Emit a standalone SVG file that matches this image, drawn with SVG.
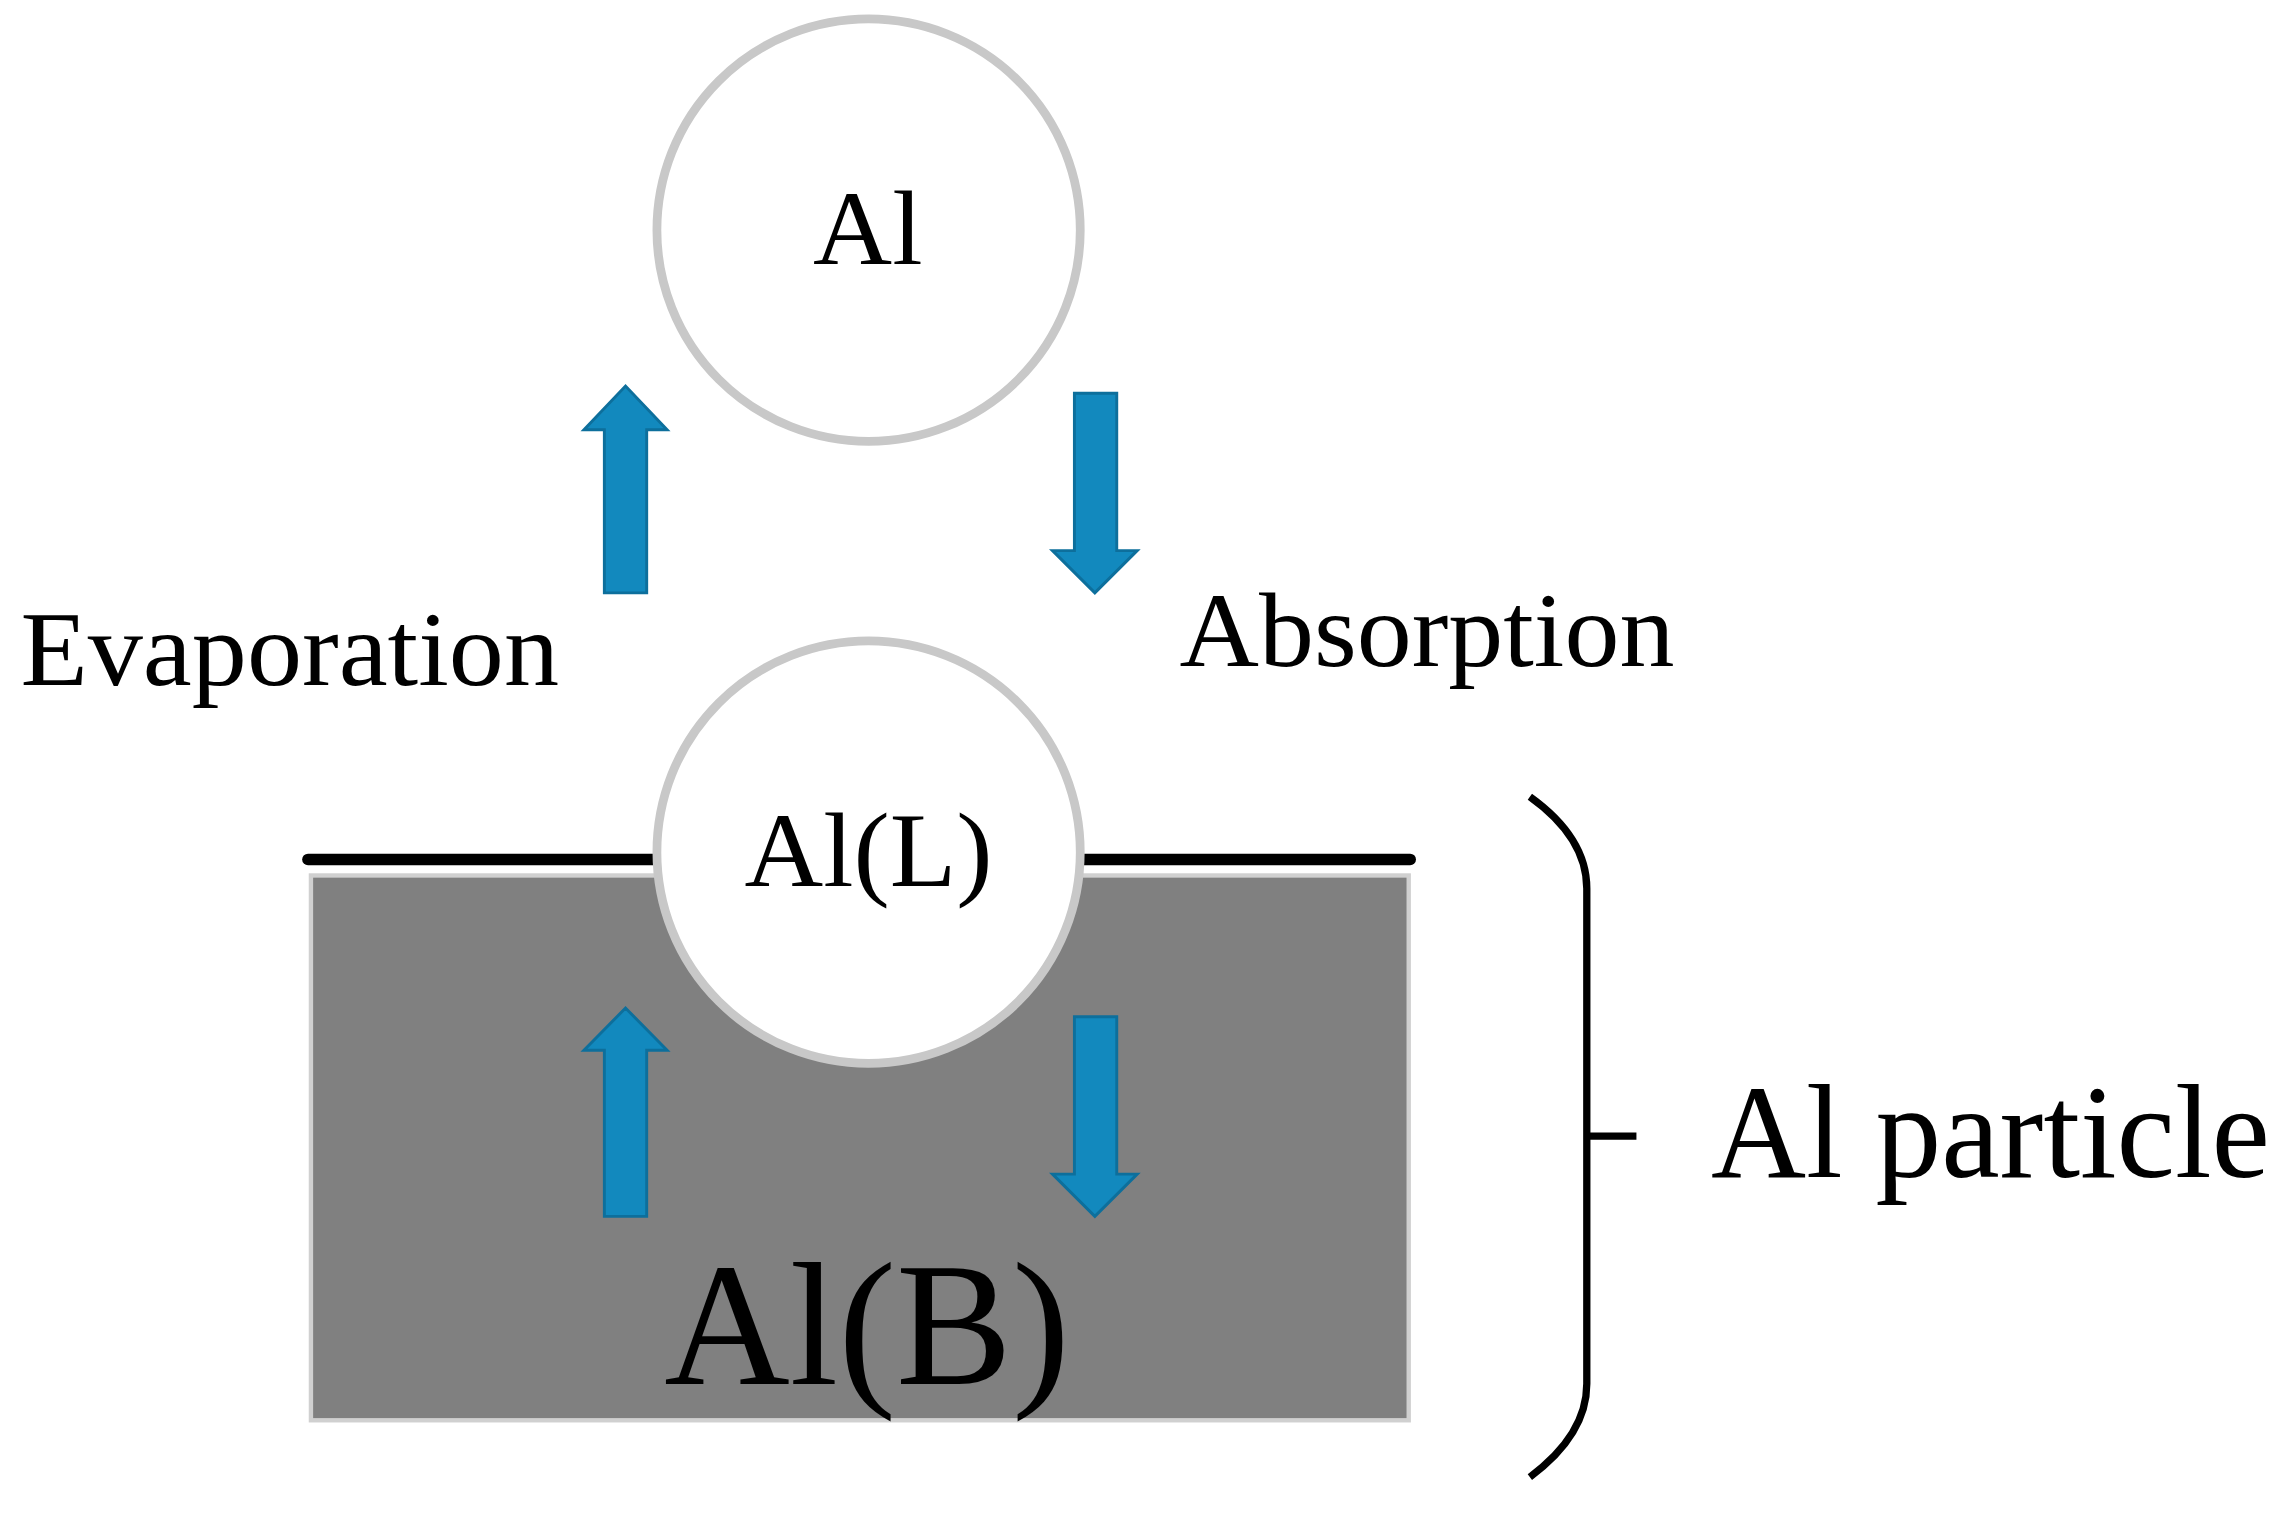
<svg xmlns="http://www.w3.org/2000/svg" width="2289" height="1515" viewBox="0 0 2289 1515">
<style>
text{font-family:"Liberation Serif","Times New Roman",serif;fill:#000}
.c{fill:#fff;stroke:#c8c8c8;stroke-width:6}
.ar{fill:#1289be;stroke:#0d6f9c;stroke-width:2}
</style>
<rect width="2289" height="1515" fill="#fff"/>
<g transform="scale(1.4598,1.4567)">
<g id="particle">
<rect x="213" y="601" width="752" height="374" fill="#808080" stroke="#d0d0d0" stroke-width="3"/>
<line x1="211" y1="590" x2="966" y2="590" stroke="#000" stroke-width="8" stroke-linecap="round"/>
<text x="455" y="950" font-size="120" textLength="278" lengthAdjust="spacingAndGlyphs">Al(B)</text>
</g>
<g id="al">
<circle class="c" cx="595" cy="158" r="145"/>
<text x="557" y="181" font-size="72" textLength="75" lengthAdjust="spacingAndGlyphs">Al</text>
</g>
<g id="all">
<circle class="c" cx="595" cy="585" r="145"/>
<text x="510" y="608" font-size="72" textLength="170" lengthAdjust="spacingAndGlyphs">Al(L)</text>
</g>
<g id="connectors">
<polygon class="ar" points="414,407 414,295 400,295 428.5,265 457,295 443,295 443,407"/>
<polygon class="ar" points="736,270 736,378 721,378 750,407 779,378 765,378 765,270"/>
<polygon class="ar" points="414,835 414,721 400,721 428.5,692 457,721 443,721 443,835"/>
<polygon class="ar" points="736,698 736,806 721,806 750,835 779,806 765,806 765,698"/>
</g>
<g id="labels">
<text x="14" y="470" font-size="72" textLength="369" lengthAdjust="spacingAndGlyphs">Evaporation</text>
<text x="808" y="457" font-size="72" textLength="339" lengthAdjust="spacingAndGlyphs">Absorption</text>
</g>
<g id="brace">
<path d="M1048,547 Q1087,575 1087,610 L1087,950 Q1087,985 1048,1014 M1087,780 L1121,780" fill="none" stroke="#000" stroke-width="5"/>
<text x="1172" y="808" font-size="92" textLength="383" lengthAdjust="spacingAndGlyphs">Al particle</text>
</g>
</g>
</svg>
